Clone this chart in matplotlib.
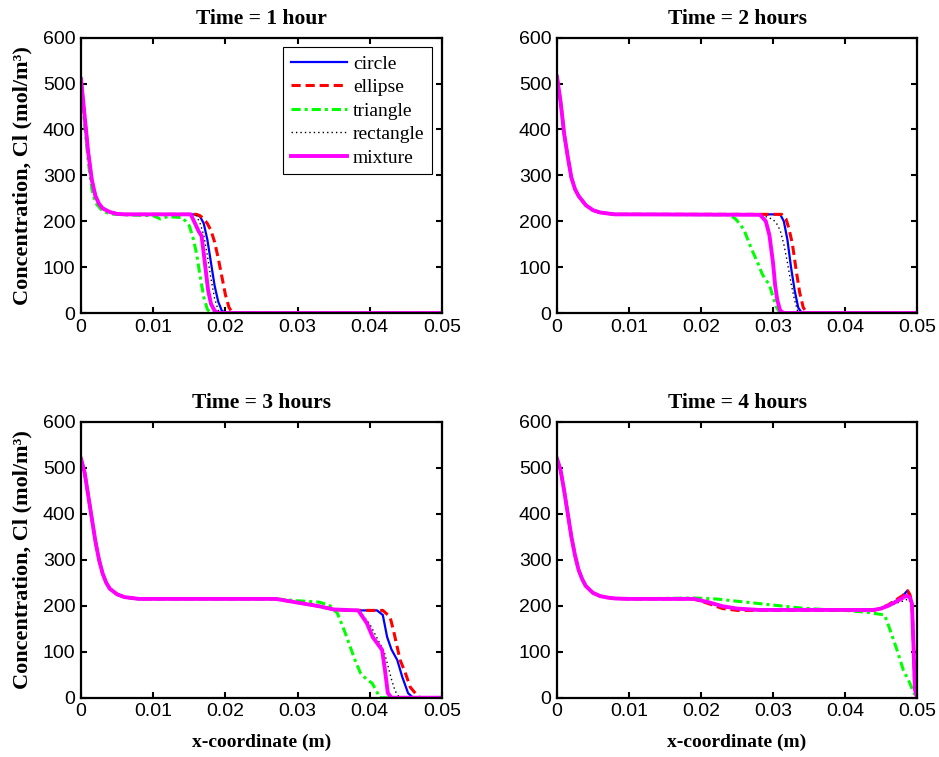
import matplotlib
matplotlib.use("Agg")
import matplotlib.pyplot as plt

# ---------------- data (x in m, concentration in mol/m^3) ----------------
titles = ["Time = 1 hour", "Time = 2 hours", "Time = 3 hours", "Time = 4 hours"]
labels = ["circle", "ellipse", "triangle", "rectangle", "mixture"]

# Panel 1 : 1 hour
p1_head_x = [0, 0.0005, 0.001, 0.0015, 0.002, 0.0025, 0.003, 0.004, 0.005, 0.006]
p1_head_y = [510, 430, 350, 290, 255, 238, 228, 220, 216, 215]
p1_circle_x = [0.010, 0.0155, 0.016, 0.0165, 0.017, 0.0175, 0.018, 0.0185, 0.019, 0.0195, 0.020, 0.05]
p1_circle_y = [215, 215, 214, 210, 195, 160, 110, 60, 25, 5, 0, 0]
p1_ellipse_x = [0.010, 0.016, 0.0165, 0.017, 0.0175, 0.018, 0.0185, 0.019, 0.0195, 0.020, 0.0205, 0.021, 0.05]
p1_ellipse_y = [215, 215, 212, 205, 195, 180, 155, 120, 80, 40, 12, 0, 0]
p1_triangle_x = [0, 0.0005, 0.001, 0.0015, 0.002, 0.003, 0.004, 0.006, 0.010, 0.011, 0.012, 0.014, 0.0145, 0.015, 0.0155, 0.016, 0.0165, 0.017, 0.0175, 0.018, 0.05]
p1_triangle_y = [500, 410, 330, 270, 240, 222, 216, 214, 212, 205, 210, 208, 200, 190, 165, 130, 80, 35, 8, 0, 0]
p1_rect_x = [0.010, 0.015, 0.016, 0.0165, 0.017, 0.0175, 0.018, 0.0185, 0.019, 0.0195, 0.05]
p1_rect_y = [215, 214, 212, 195, 170, 125, 75, 32, 6, 0, 0]
p1_mix_x = [0.010, 0.0152, 0.0158, 0.0163, 0.0167, 0.017, 0.0173, 0.0176, 0.018, 0.0185, 0.019, 0.05]
p1_mix_y = [215, 215, 195, 178, 168, 130, 90, 50, 20, 5, 0, 0]

# Panel 2 : 2 hours
p2_head_x = [0, 0.0005, 0.001, 0.0015, 0.002, 0.0025, 0.003, 0.0035, 0.004, 0.005, 0.006, 0.007, 0.008]
p2_head_y = [515, 460, 390, 340, 295, 270, 255, 245, 235, 224, 219, 217, 215]
p2_circle_x = [0.010, 0.031, 0.0315, 0.032, 0.0325, 0.033, 0.0335, 0.034, 0.05]
p2_circle_y = [215, 215, 200, 160, 100, 50, 12, 0, 0]
p2_ellipse_x = [0.010, 0.0312, 0.0318, 0.0322, 0.0327, 0.0332, 0.0337, 0.0342, 0.0347, 0.05]
p2_ellipse_y = [215, 215, 205, 185, 150, 95, 45, 12, 0, 0]
p2_triangle_x = [0.010, 0.024, 0.0248, 0.0255, 0.026, 0.027, 0.028, 0.0285, 0.029, 0.0295, 0.030, 0.0305, 0.031, 0.05]
p2_triangle_y = [215, 214, 205, 192, 180, 140, 105, 85, 72, 62, 35, 12, 0, 0]
p2_rect_x = [0.010, 0.028, 0.029, 0.030, 0.0305, 0.031, 0.0315, 0.032, 0.0325, 0.033, 0.0335, 0.05]
p2_rect_y = [215, 214, 210, 204, 195, 180, 150, 110, 65, 28, 0, 0]
p2_mix_x = [0.010, 0.0282, 0.029, 0.0295, 0.030, 0.0303, 0.0306, 0.031, 0.0315, 0.05]
p2_mix_y = [215, 214, 200, 170, 110, 60, 28, 5, 0, 0]

# Panel 3 : 3 hours
p3_head_x = [0, 0.0005, 0.001, 0.0015, 0.002, 0.0025, 0.003, 0.0035, 0.004, 0.005, 0.006, 0.007, 0.008]
p3_head_y = [520, 490, 440, 390, 340, 300, 270, 250, 237, 225, 219, 217, 215]
p3_circle_x = [0.010, 0.027, 0.030, 0.033, 0.035, 0.037, 0.041, 0.0418, 0.0424, 0.043, 0.0438, 0.0445, 0.0453, 0.046, 0.05]
p3_circle_y = [215, 215, 207, 199, 192, 190, 190, 180, 132, 105, 82, 45, 10, 0, 0]
p3_ellipse_x = [0.010, 0.027, 0.030, 0.033, 0.035, 0.037, 0.0418, 0.0428, 0.0433, 0.0438, 0.0442, 0.0449, 0.0456, 0.0465, 0.047, 0.05]
p3_ellipse_y = [215, 215, 207, 199, 192, 190, 190, 176, 145, 110, 82, 55, 23, 6, 0, 0]
p3_triangle_x = [0.010, 0.027, 0.030, 0.033, 0.0345, 0.0355, 0.0365, 0.0373, 0.038, 0.0387, 0.0396, 0.0403, 0.0407, 0.0414, 0.05]
p3_triangle_y = [215, 215, 211, 208, 200, 184, 145, 110, 80, 54, 39, 32, 21, 0, 0]
p3_rect_x = [0.010, 0.027, 0.030, 0.033, 0.035, 0.038, 0.039, 0.040, 0.041, 0.042, 0.0425, 0.043, 0.0435, 0.044, 0.0445, 0.05]
p3_rect_y = [215, 215, 207, 199, 192, 190, 180, 160, 130, 100, 70, 40, 15, 3, 0, 0]
p3_mix_x = [0.010, 0.027, 0.030, 0.033, 0.035, 0.0384, 0.0396, 0.0404, 0.0417, 0.0421, 0.0425, 0.043, 0.05]
p3_mix_y = [215, 215, 207, 199, 192, 190, 162, 132, 104, 60, 10, 0, 0]

# Panel 4 : 4 hours
p4_head_x = [0, 0.0005, 0.001, 0.0015, 0.002, 0.0025, 0.003, 0.0035, 0.004, 0.005, 0.006, 0.007, 0.008, 0.010]
p4_head_y = [520, 495, 450, 400, 350, 310, 278, 258, 243, 228, 221, 218, 216, 215]
p4_circle_x = [0.019, 0.021, 0.023, 0.025, 0.028, 0.044, 0.045, 0.046, 0.047, 0.048, 0.0486, 0.049, 0.0493, 0.0495, 0.0497, 0.050]
p4_circle_y = [215, 207, 198, 193, 191, 191, 195, 201, 210, 221, 232, 224, 206, 120, 20, 0]
p4_ellipse_x = [0.019, 0.021, 0.023, 0.025, 0.028, 0.044, 0.045, 0.046, 0.047, 0.048, 0.0487, 0.049, 0.0493, 0.0495, 0.0497, 0.050]
p4_ellipse_y = [215, 205, 194, 190, 190, 190, 195, 202, 212, 222, 233, 225, 206, 120, 20, 0]
p4_triangle_x = [0.019, 0.022, 0.025, 0.028, 0.031, 0.034, 0.037, 0.040, 0.043, 0.0455, 0.0462, 0.0472, 0.0481, 0.049, 0.0495, 0.0498]
p4_triangle_y = [217, 215, 210, 205, 200, 195, 192, 190, 186, 180, 150, 105, 60, 32, 12, 5]
p4_rect_x = [0.019, 0.021, 0.023, 0.025, 0.028, 0.044, 0.045, 0.046, 0.047, 0.048, 0.0488, 0.0492, 0.0495, 0.0497, 0.050]
p4_rect_y = [215, 207, 197, 192, 190, 190, 194, 199, 205, 210, 215, 205, 120, 20, 0]
p4_mix_x = [0.019, 0.021, 0.023, 0.025, 0.028, 0.044, 0.045, 0.046, 0.047, 0.048, 0.0485, 0.049, 0.0493, 0.0495, 0.0497, 0.050]
p4_mix_y = [215, 208, 199, 194, 191, 191, 194, 200, 208, 217, 222, 218, 205, 120, 20, 0]

panels = [
    (p1_head_x, p1_head_y, [(p1_circle_x, p1_circle_y), (p1_ellipse_x, p1_ellipse_y), (p1_triangle_x, p1_triangle_y), (p1_rect_x, p1_rect_y), (p1_mix_x, p1_mix_y)]),
    (p2_head_x, p2_head_y, [(p2_circle_x, p2_circle_y), (p2_ellipse_x, p2_ellipse_y), (p2_triangle_x, p2_triangle_y), (p2_rect_x, p2_rect_y), (p2_mix_x, p2_mix_y)]),
    (p3_head_x, p3_head_y, [(p3_circle_x, p3_circle_y), (p3_ellipse_x, p3_ellipse_y), (p3_triangle_x, p3_triangle_y), (p3_rect_x, p3_rect_y), (p3_mix_x, p3_mix_y)]),
    (p4_head_x, p4_head_y, [(p4_circle_x, p4_circle_y), (p4_ellipse_x, p4_ellipse_y), (p4_triangle_x, p4_triangle_y), (p4_rect_x, p4_rect_y), (p4_mix_x, p4_mix_y)]),
]

x_ticks = [0, 0.01, 0.02, 0.03, 0.04, 0.05]
x_ticklabels = ["0", "0.01", "0.02", "0.03", "0.04", "0.05"]
y_ticks = [0, 100, 200, 300, 400, 500, 600]

# ---------------- styles ----------------
styles = [
    dict(color="#0000FF", lw=1.6, ls="-"),
    dict(color="#FF0000", lw=2.2, ls=(0, (3, 1.6))),
    dict(color="#00FF00", lw=2.2, ls=(0, (3, 1.3, 1, 1.3))),
    dict(color="#000000", lw=1.0, ls=(0, (1, 2.2))),
    dict(color="#FF00FF", lw=2.8, ls="-"),
]

W, H = 939, 757
fig = plt.figure(figsize=(W / 100, H / 100), dpi=100)
fig.patch.set_facecolor("white")

rects_px = [(81, 37.7, 442, 313), (557, 37.7, 917, 313),
            (81, 422, 442, 697.7), (557, 422, 917, 697.7)]

serif = "Liberation Serif"
sans = "Liberation Sans"

for i, (hx, hy, curves) in enumerate(panels):
    l, t, r, b = rects_px[i]
    ax = fig.add_axes([l / W, 1 - b / H, (r - l) / W, (b - t) / H])
    for j, (cx, cy) in enumerate(curves):
        if i == 0 and j == 2:
            xs, ys = list(cx), list(cy)
        else:
            xs = list(hx) + list(cx)
            ys = list(hy) + list(cy)
        ax.plot(xs, ys, label=labels[j], **styles[j])
    ax.set_xlim(0, 0.05)
    ax.set_ylim(0, 600)
    ax.set_xticks(x_ticks)
    ax.set_xticklabels(x_ticklabels, fontfamily=sans, fontsize=14)
    ax.set_yticks(y_ticks)
    ax.set_yticklabels([str(v) for v in y_ticks], fontfamily=sans, fontsize=14)
    ax.tick_params(direction="in", top=True, right=True, length=4, width=1.5, pad=4)
    for s in ax.spines.values():
        s.set_linewidth(1.6)
    ax.set_title(titles[i], fontfamily=serif, fontweight="bold", fontsize=15.5, pad=10)
    if i % 2 == 0:
        ax.set_ylabel("Concentration, Cl (mol/m³)", fontfamily=serif, fontweight="bold", fontsize=16)
        ax.yaxis.set_label_coords(-0.135, 0.5)
    if i >= 2:
        ax.set_xlabel("x-coordinate (m)", fontfamily=serif, fontweight="bold", fontsize=14)
        ax.xaxis.set_label_coords(0.5, -0.13)
    if i == 0:
        leg = ax.legend(loc="upper right", prop={"family": serif, "size": 14},
                        fancybox=False, framealpha=1, edgecolor="black",
                        handlelength=2.9, labelspacing=0.3, borderaxespad=0.5,
                        handletextpad=0.3, borderpad=0.4)
        leg.get_frame().set_linewidth(0.8)

fig.savefig("out.png", dpi=100)
